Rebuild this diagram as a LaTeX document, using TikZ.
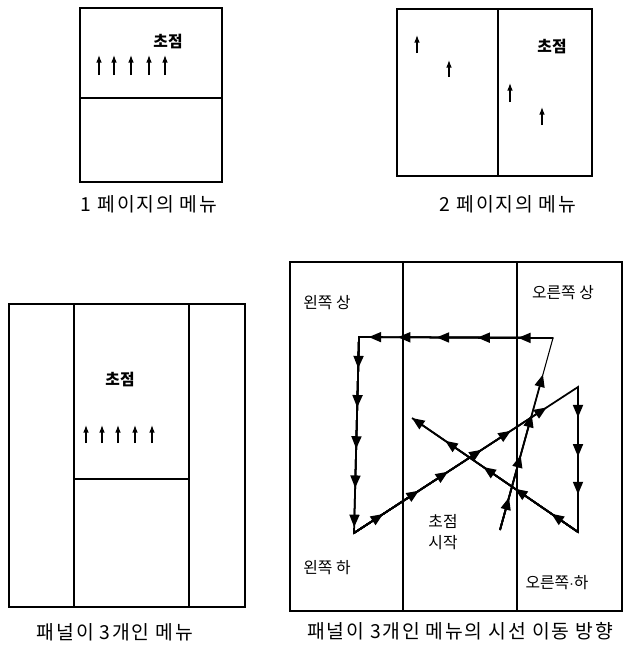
\documentclass[tikz,border=0pt]{standalone}
\usepackage{fontspec}
\newfontfamily\kr{Noto Sans CJK KR}
\newfontfamily\krwide[LetterSpace=9]{Noto Sans CJK KR}
\usetikzlibrary{arrows.meta,calc}
\tikzset{
  panel/.style={draw, line width=0.7pt},
  lbl/.style={font=\kr\fontsize{9}{11}\selectfont, inner sep=0pt, align=center},
  focus/.style={font=\kr\bfseries\fontsize{9}{11}\selectfont, inner sep=0pt},
  menucap/.style={font=\krwide\fontsize{11}{13}\selectfont, inner sep=0pt},
  up/.style={-{Latex[length=1.5mm,width=1.1mm]}, line width=0.6pt},
  gaze/.style={line width=1pt},
  gazetip/.style={line width=1pt, -{Triangle[length=2.5mm,width=2mm]}}
}
\begin{document}
\begin{tikzpicture}[x=0.02cm, y=-0.02cm]
\useasboundingbox (0,0) rectangle (625,650);

% one page menu
\draw[panel] (80,8) rectangle (222,182);
\draw[panel] (80,98) -- (222,98);
\node[focus] (f1) at (168,42) {초점};
\foreach \x in {99,114,131,149,165}
  \draw[up] (\x,75) -- (\x,55);
\node[menucap] (c1) at (149,204) {1 페이지의 메뉴};

% two page menu
\draw[panel] (397,9) rectangle (592,176);
\draw[panel] (498,9) -- (498,176);
\node[focus] (f2) at (552,47) {초점};
\foreach \x/\ya/\yb in {417/53/35, 449/77/60, 510/102/83, 542/125/107}
  \draw[up] (\x,\ya) -- (\x,\yb);
\node[menucap] (c2) at (508,204) {2 페이지의 메뉴};

% three panel menu
\draw[panel] (9,304) rectangle (245,607);
\draw[panel] (74,304) -- (74,607);
\draw[panel] (189,304) -- (189,607);
\draw[panel] (74,479) -- (189,479);
\node[focus] (f3) at (120,380) {초점};
\foreach \x in {86,102,118,135,152}
  \draw[up] (\x,443) -- (\x,425);
\node[menucap] (c3) at (115,632) {패널이 3개인 메뉴};

% gaze path over three panels
\draw[panel] (290,262) rectangle (622,611);
\draw[panel] (403,262) -- (403,611);
\draw[panel] (517,262) -- (517,611);
\node[lbl] (lu) at (327,303) {왼쪽 상};
\node[lbl] (ru) at (563,293) {오른쪽 상};
\node[lbl] (ld) at (327,568) {왼쪽 하};
\node[lbl] (rd) at (557,583) {오른쪽$\cdot$하};
\node[lbl] (st) at (443,532) {초점\\[1pt]시작};
\node[menucap] (c4) at (460,631) {패널이 3개인 메뉴의 시선 이동 방향};

\coordinate (s0) at (500,530);
\coordinate (p1) at (553,338);
\coordinate (p2) at (359,337);
\coordinate (p3) at (354,533);
\coordinate (p4) at (578,387);
\coordinate (p5) at (578,532);
\coordinate (p6) at (412,418);

\draw[line width=0.6pt] (s0) -- (p1);
\draw[gaze] (p1) -- (p2) -- (p3) -- (p4) -- (p5) -- (p6);
\foreach \a/\b/\ps in {s0/p1/{0.17,0.39,0.6,0.81},
                      p1/p2/{0.18,0.39,0.6,0.8,0.95},
                      p2/p3/{0.16,0.36,0.57,0.77,0.97},
                      p3/p4/{0.13,0.29,0.42,0.57,0.7,0.86},
                      p4/p5/{0.21,0.48,0.74},
                      p5/p6/{0.16,0.38,0.57,0.8,1}}
  \foreach \p in \ps
    \draw[gazetip] (\a) -- ($(\a)!\p!(\b)$);
\end{tikzpicture}
\end{document}
